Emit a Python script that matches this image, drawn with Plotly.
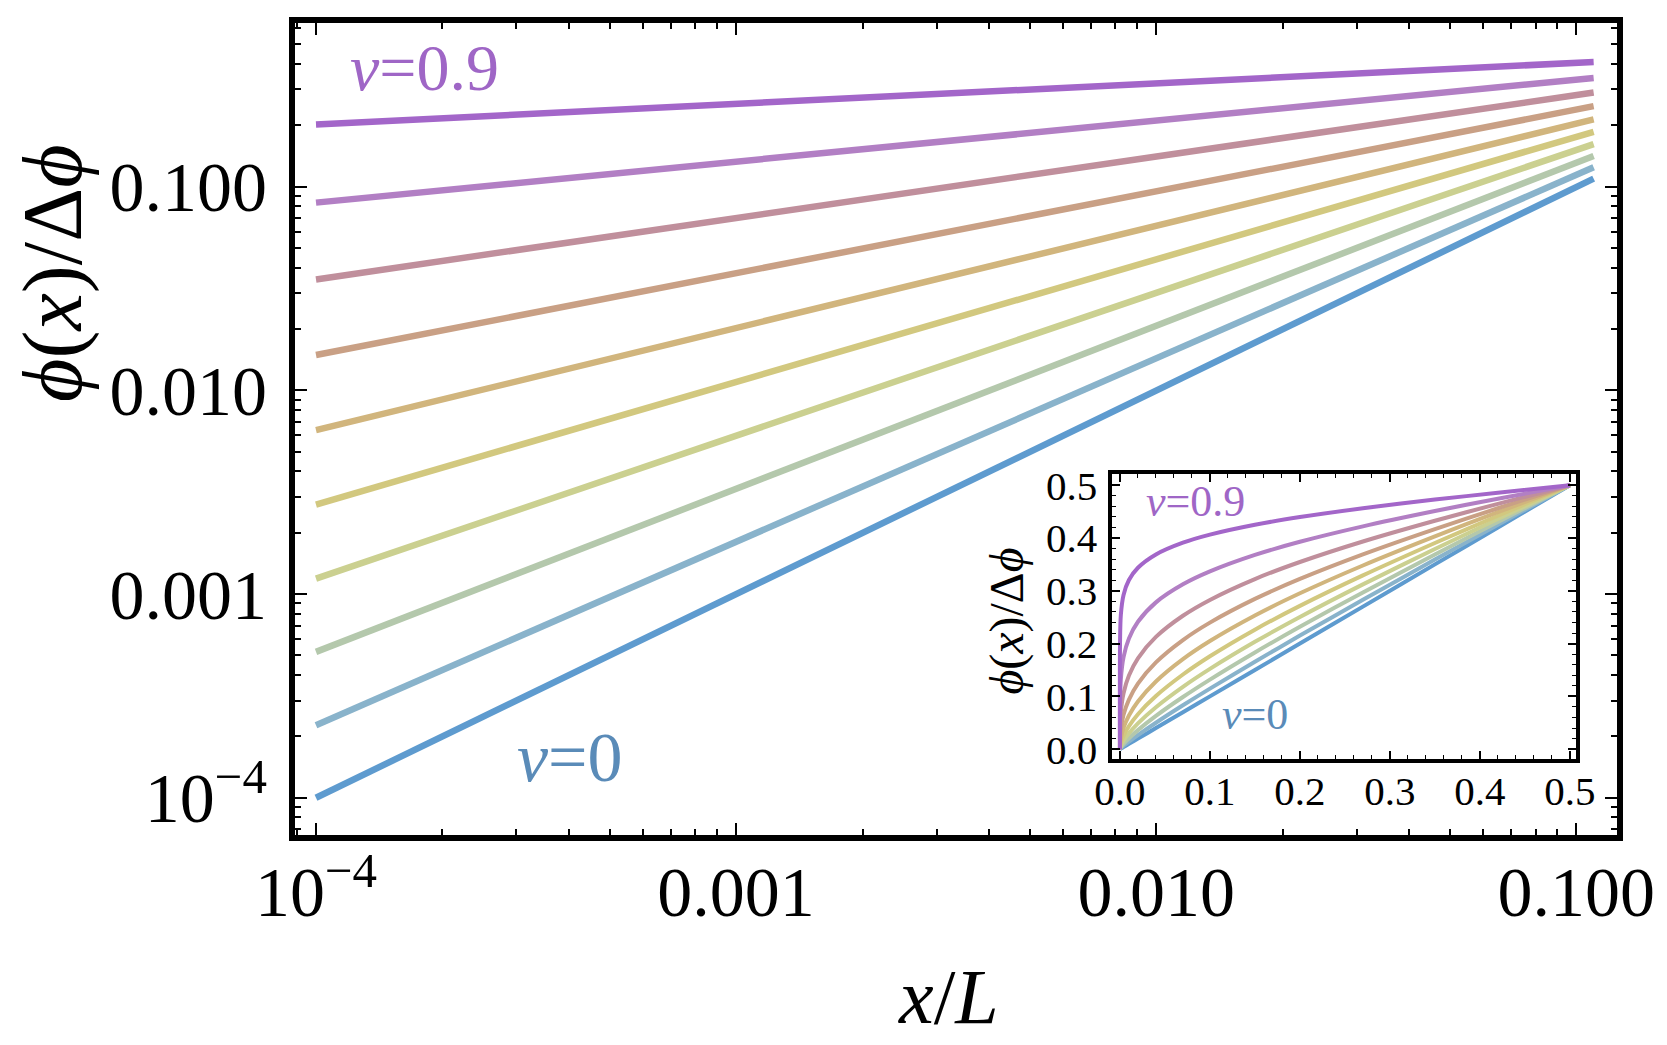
import plotly.graph_objects as go

# ---------------- data ----------------
nu_values = [0.0, 0.1, 0.2, 0.3, 0.4, 0.5, 0.6, 0.7, 0.8, 0.9]
line_colors = ["#5e9bcf", "#89b3cb", "#b4c8ac", "#cbd090", "#d2c87f",
               "#d1b57d", "#c9a085", "#c08f9c", "#b27fc4", "#a366c9"]

# main log-log panel: each curve is a straight line between the two end points
x_main = [1e-4, 0.11]
y_main_left = [1.0e-4, 2.27e-4, 5.2e-4, 1.19e-3, 2.75e-3, 6.37e-3, 1.49e-2, 3.50e-2, 8.34e-2, 0.202]
y_main_right = [0.1094, 0.1243, 0.1413, 0.1617, 0.1858, 0.2136, 0.2482, 0.2895, 0.3415, 0.409]

# inset (linear axes)
x_inset = [0, 0.0001, 0.001, 0.004, 0.01, 0.02, 0.04, 0.07, 0.1, 0.15, 0.2, 0.27, 0.35, 0.42, 0.5]
y_inset_nu00 = [0, 0.0001, 0.001, 0.004, 0.01, 0.02, 0.04, 0.07, 0.1, 0.15, 0.2, 0.27, 0.35, 0.42, 0.5]
y_inset_nu01 = [0, 0.0002, 0.0018, 0.0063, 0.0144, 0.0268, 0.0501, 0.0831, 0.1147, 0.1656, 0.2151, 0.2829, 0.3591, 0.4250, 0.5]
y_inset_nu02 = [0, 0.0005, 0.0033, 0.0100, 0.0207, 0.0361, 0.0630, 0.0988, 0.1318, 0.1832, 0.2318, 0.2969, 0.3687, 0.4303, 0.5]
y_inset_nu03 = [0, 0.0012, 0.0060, 0.0158, 0.0300, 0.0488, 0.0794, 0.1180, 0.1520, 0.2033, 0.2504, 0.3122, 0.3791, 0.4359, 0.5]
y_inset_nu04 = [0, 0.0027, 0.0109, 0.0251, 0.0436, 0.0662, 0.1006, 0.1414, 0.1760, 0.2264, 0.2714, 0.3291, 0.3905, 0.4421, 0.5]
y_inset_nu05 = [0, 0.0064, 0.0201, 0.0403, 0.0638, 0.0903, 0.1282, 0.1705, 0.2048, 0.2532, 0.2952, 0.3479, 0.4030, 0.4489, 0.5]
y_inset_nu06 = [0, 0.0149, 0.0373, 0.0650, 0.0939, 0.1241, 0.1644, 0.2067, 0.2397, 0.2846, 0.3225, 0.3690, 0.4169, 0.4563, 0.5]
y_inset_nu07 = [0, 0.0350, 0.0698, 0.1059, 0.1396, 0.1721, 0.2126, 0.2527, 0.2827, 0.3222, 0.3545, 0.3934, 0.4327, 0.4647, 0.5]
y_inset_nu08 = [0, 0.0834, 0.1322, 0.1745, 0.2098, 0.2413, 0.2780, 0.3122, 0.3367, 0.3679, 0.3928, 0.4220, 0.4510, 0.4744, 0.5]
y_inset_nu09 = [0, 0.2019, 0.2542, 0.2921, 0.3203, 0.3436, 0.3688, 0.3911, 0.4064, 0.4251, 0.4397, 0.4564, 0.4727, 0.4857, 0.5]
y_inset = [y_inset_nu00, y_inset_nu01, y_inset_nu02, y_inset_nu03, y_inset_nu04,
           y_inset_nu05, y_inset_nu06, y_inset_nu07, y_inset_nu08, y_inset_nu09]

main_tickvals = [1e-4, 1e-3, 1e-2, 1e-1]
main_ticktext = ["10<sup>\u22124</sup>", "0.001", "0.010", "0.100"]
inset_tickvals = [0, 0.1, 0.2, 0.3, 0.4, 0.5]
inset_ticktext = ["0.0", "0.1", "0.2", "0.3", "0.4", "0.5"]

# ---------------- figure ----------------
FONT = "Liberation Serif, Times New Roman, serif"
fig = go.Figure()

for i, nu in enumerate(nu_values):
    fig.add_trace(go.Scatter(
        x=x_main, y=[y_main_left[i], y_main_right[i]], mode="lines",
        line=dict(color=line_colors[i], width=6.5),
        xaxis="x", yaxis="y", showlegend=False, hoverinfo="skip"))

for i, nu in enumerate(nu_values):
    fig.add_trace(go.Scatter(
        x=x_inset, y=y_inset[i], mode="lines",
        line=dict(color=line_colors[i], width=4, shape="spline", smoothing=0.8),
        xaxis="x2", yaxis="y2", showlegend=False, hoverinfo="skip"))

minor_log = [m * 10.0 ** e for e in range(-5, 0) for m in range(2, 10)]

L, R, T, B = 295, 44, 16, 210
W, H = 1667, 1045
pw, ph = W - L - R, H - T - B

def px2paper_x(px):
    return (px - L) / pw

def px2paper_y(py):
    return (H - B - py) / ph

# inset frame in pixels
iL, iR, iT, iB = 1116, 1582, 471, 758

axis_common = dict(showline=True, linecolor="black", mirror="allticks",
                   showgrid=False, zeroline=False, ticks="inside",
                   tickcolor="black")

fig.update_layout(
    width=W, height=H,
    margin=dict(l=L, r=R, t=T, b=B, pad=0),
    paper_bgcolor="white", plot_bgcolor="white",
    font=dict(family=FONT, color="black"),
    xaxis=dict(type="log", range=[-4.05, -0.903], domain=[0, 1], anchor="y",
               linewidth=6, ticklen=12, tickwidth=2,
               tickvals=main_tickvals, ticktext=main_ticktext,
               tickfont=dict(size=70, family=FONT), ticklabelstandoff=-9,
               minor=dict(tickvals=minor_log, ticks="inside", ticklen=6,
                          tickwidth=1.5, tickcolor="black", showgrid=False),
               **axis_common),
    yaxis=dict(type="log", range=[-4.183, -0.197], domain=[0, 1], anchor="x",
               linewidth=6, ticklen=12, tickwidth=2,
               tickvals=main_tickvals, ticktext=main_ticktext,
               tickfont=dict(size=70, family=FONT), ticklabelstandoff=8,
               minor=dict(tickvals=minor_log, ticks="inside", ticklen=6,
                          tickwidth=1.5, tickcolor="black", showgrid=False),
               **axis_common),
    xaxis2=dict(range=[-0.0085, 0.507], anchor="y2",
                domain=[px2paper_x(iL), px2paper_x(iR)],
                linewidth=3.5, ticklen=8, tickwidth=1.5,
                tickvals=inset_tickvals, ticktext=inset_ticktext,
                tickfont=dict(size=41, family=FONT), ticklabelstandoff=-7,
                minor=dict(dtick=0.02, ticks="inside", ticklen=4, tickwidth=1,
                           tickcolor="black", showgrid=False),
                **axis_common),
    yaxis2=dict(range=[-0.018, 0.521], anchor="x2",
                domain=[px2paper_y(iB), px2paper_y(iT)],
                linewidth=3.5, ticklen=8, tickwidth=1.5,
                tickvals=inset_tickvals, ticktext=inset_ticktext,
                tickfont=dict(size=41, family=FONT), ticklabelstandoff=3,
                minor=dict(dtick=0.02, ticks="inside", ticklen=4, tickwidth=1,
                           tickcolor="black", showgrid=False),
                **axis_common),
)

annotations = [
    dict(text="<i>\u03d5</i>(<i>x</i>)/\u0394<i>\u03d5</i>", x=px2paper_x(52), y=px2paper_y(268),
         textangle=-90, font=dict(size=84, family=FONT, color="black")),
    dict(text="<i>x</i>/<i>L</i>", x=px2paper_x(951), y=px2paper_y(998),
         font=dict(size=78, family=FONT, color="black")),
    dict(text="<i>\u03bd</i>=0.9", x=px2paper_x(425), y=px2paper_y(61),
         font=dict(size=66, family=FONT, color="#9f66c6")),
    dict(text="<i>\u03bd</i>=0", x=px2paper_x(571), y=px2paper_y(757),
         font=dict(size=70, family=FONT, color="#5a8bb8")),
    dict(text="<i>\u03bd</i>=0.9", x=px2paper_x(1200), y=px2paper_y(499),
         font=dict(size=44, family=FONT, color="#9f66c6")),
    dict(text="<i>\u03bd</i>=0", x=px2paper_x(1259), y=px2paper_y(713),
         font=dict(size=44, family=FONT, color="#5a8bb8")),
    dict(text="<i>\u03d5</i>(<i>x</i>)/\u0394<i>\u03d5</i>", x=px2paper_x(1010), y=px2paper_y(619),
         textangle=-90, font=dict(size=48, family=FONT, color="black")),
]
for a in annotations:
    a.update(xref="paper", yref="paper", showarrow=False, xanchor="center", yanchor="middle")
fig.update_layout(annotations=annotations)

fig.write_html("out.html")
